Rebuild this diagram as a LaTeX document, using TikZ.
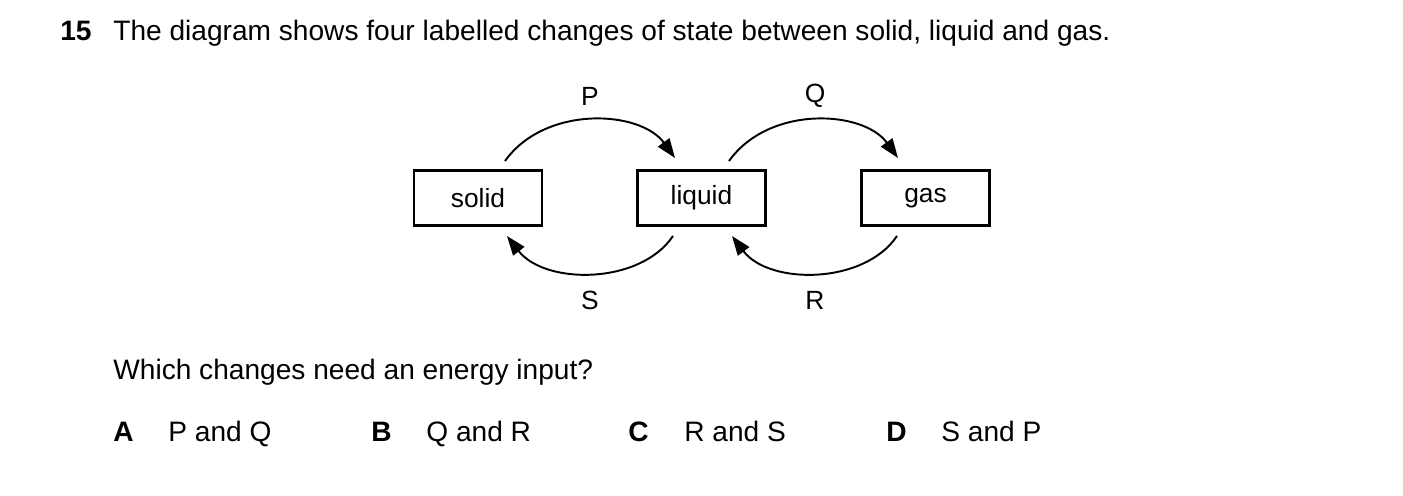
\documentclass[tikz,border=0pt]{standalone}
\usepackage{fontspec}
\setmainfont{Liberation Sans}
\usetikzlibrary{arrows.meta}
\begin{document}
\begin{tikzpicture}[x=0.02cm,y=-0.02cm,
  box/.style={draw,line width=1.2pt,minimum width=2.56cm,minimum height=1.1cm,inner sep=0pt,font=\fontsize{15}{18}\selectfont},
  lab/.style={font=\fontsize{15}{18}\selectfont,inner sep=0pt},
  txt/.style={font=\fontsize{16}{19}\selectfont,inner sep=0pt,anchor=base west},
  arc/.style={line width=1.1pt,-{Triangle[length=11pt,width=8pt]}}]
\useasboundingbox (0,0) rectangle (1403,496);
\node[txt,font=\fontsize{16}{19}\selectfont\bfseries] (n) at (60,41) {15};
\node[txt] (q) at (113,41) {The diagram shows four labelled changes of state between solid, liquid and gas.};
\node[box] (solid) at (478,198) {solid};
\node[box] (liquid) at (701.5,198) {liquid};
\node[box] (gas) at (925.5,198) {gas};
\coordinate (p1) at (505,161); \coordinate (p2) at (675,158);
\coordinate (q1) at (729,161); \coordinate (q2) at (898,158);
\coordinate (s1) at (673,236); \coordinate (s2) at (507,236);
\coordinate (r1) at (897,236); \coordinate (r2) at (732,236);
\draw[arc] (p1) .. controls (545,105) and (640,110) .. (p2);
\draw[arc] (q1) .. controls (769,105) and (863,110) .. (q2);
\draw[arc] (s1) .. controls (640,285) and (545,285) .. (s2);
\draw[arc] (r1) .. controls (864,285) and (769,285) .. (r2);
\node[lab] (P) at (590,96) {P};
\node[lab] (Q) at (815,96) {Q};
\node[lab] (S) at (590,300) {S};
\node[lab] (R) at (815,300) {R};
\node[txt] (w) at (113,379) {Which changes need an energy input?};
\node[txt,font=\fontsize{16}{19}\selectfont\bfseries] (A) at (113,441) {A};
\node[txt] (a) at (168,441) {P and Q};
\node[txt,font=\fontsize{16}{19}\selectfont\bfseries] (B) at (371,441) {B};
\node[txt] (b) at (426,441) {Q and R};
\node[txt,font=\fontsize{16}{19}\selectfont\bfseries] (C) at (628,441) {C};
\node[txt] (c) at (684,441) {R and S};
\node[txt,font=\fontsize{16}{19}\selectfont\bfseries] (D) at (886,441) {D};
\node[txt] (d) at (941,441) {S and P};
\end{tikzpicture}
\end{document}
